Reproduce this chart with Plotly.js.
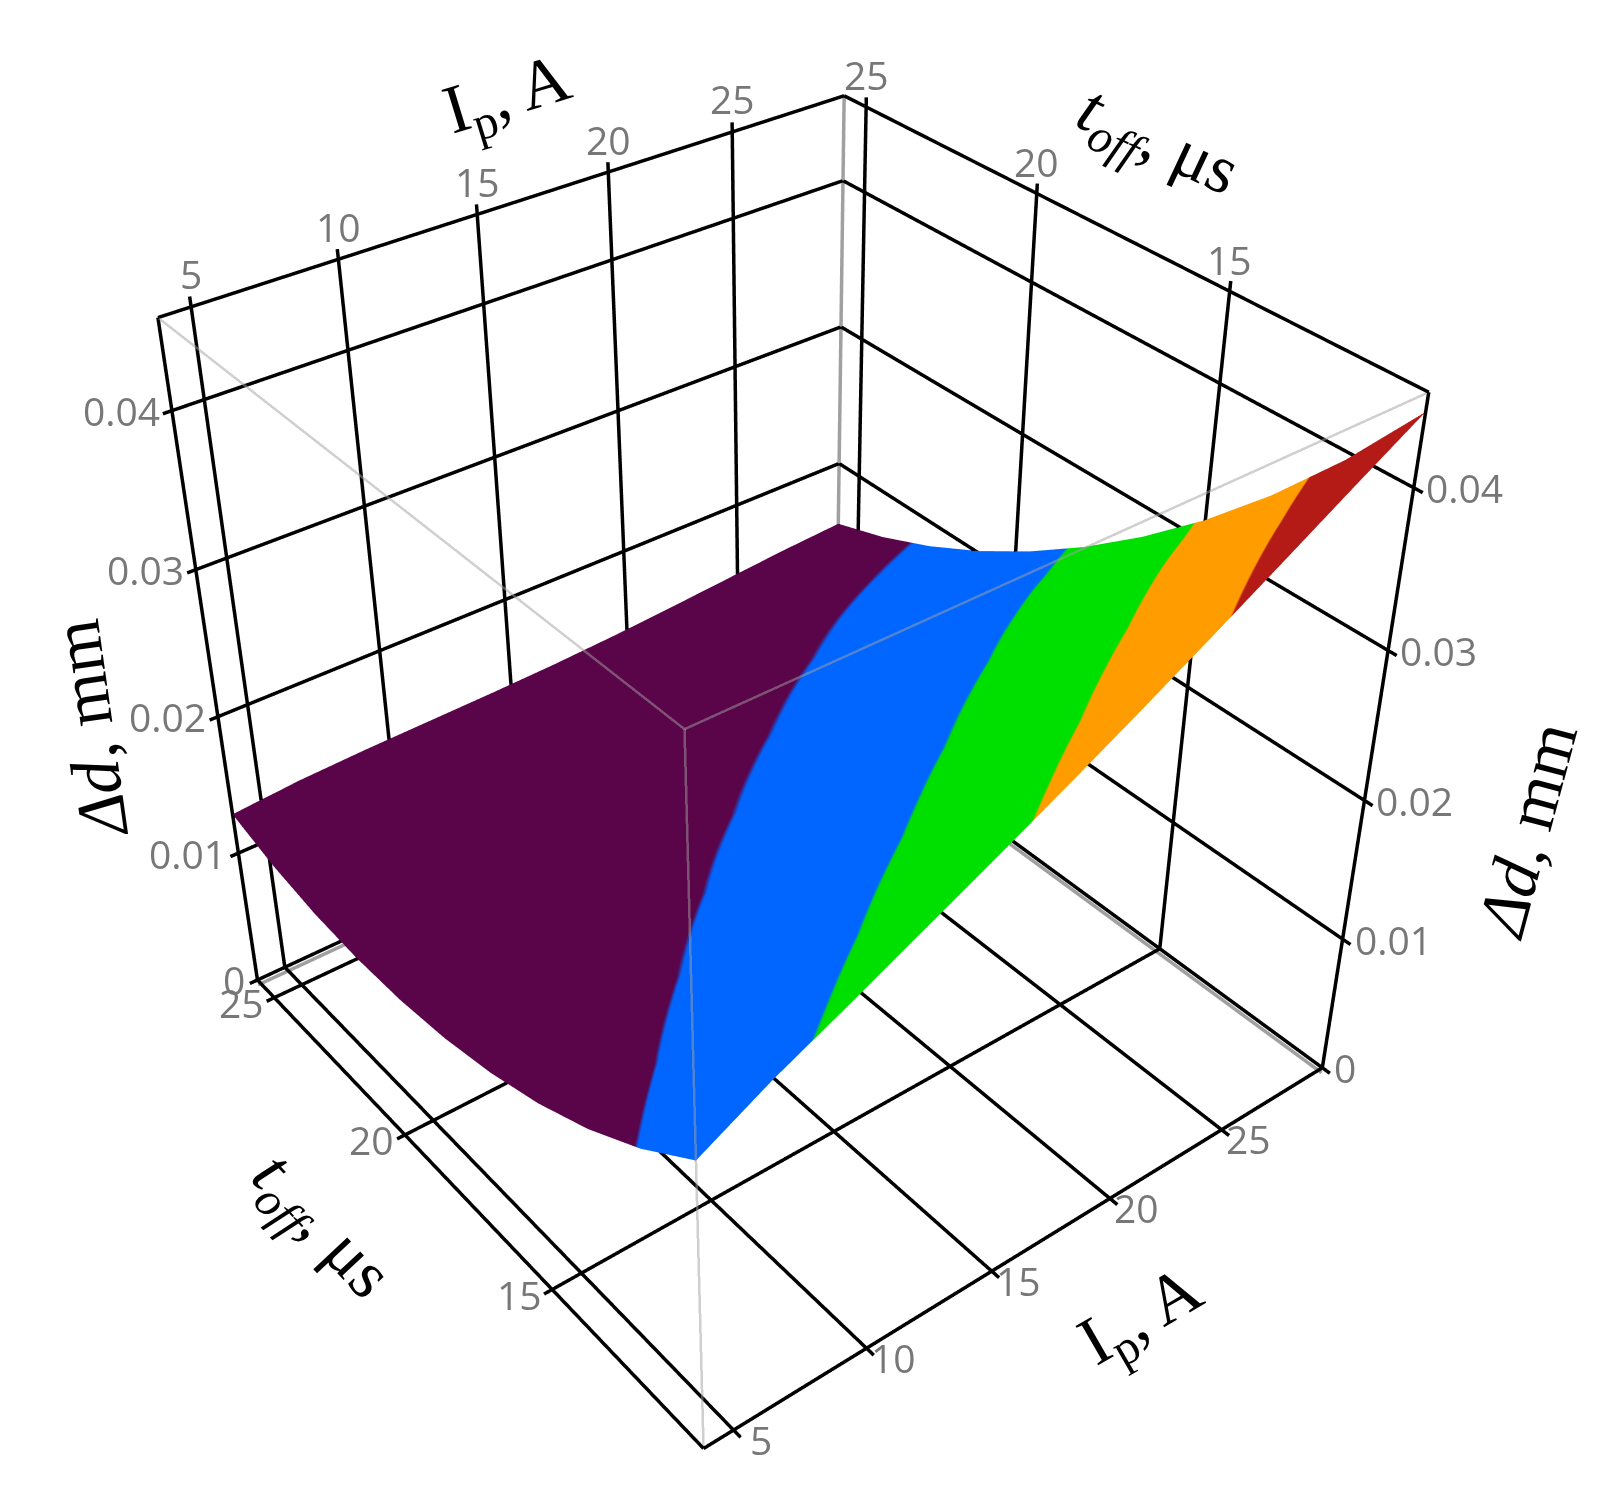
<!DOCTYPE html>
<html>
<head>
<meta charset="utf-8">
<script src="https://cdn.plot.ly/plotly-3.0.1.min.js"></script>
<style>
    body { margin: 0; background: #fff; overflow: hidden; }
    /* the scene is taller than the page: the perspective of the picture needs a longer focal length */
    #chart { position: absolute; left: -32px; top: -401px; width: 1632px; height: 2294px; }
</style>
</head>
<body>
<div id="chart"></div>
<script>
// valeurs
const ip_values = [3.9136, 6.498, 9.083, 11.667, 14.252, 16.836, 19.421, 22.005, 24.59, 27.174, 29.759];
const toff_values = [10.4435, 11.968, 13.493, 15.017, 16.542, 18.066, 19.591, 21.115, 22.64, 24.164, 25.6887];
// one row per toff value, one column per Ip value
const delta_d = [
    [.02058, .02308, .02525, .02749, .02974, .03204, .03442, .03687, .03937, .04190, .04439],
    [.01777, .02012, .02227, .02433, .02639, .02848, .03064, .03286, .03512, .03736, .03948],
    [.01555, .01773, .01971, .02158, .02344, .02532, .02727, .02927, .03129, .03329, .03516],
    [.01384, .01584, .01763, .01931, .02096, .02264, .02438, .02616, .02795, .02971, .03134],
    [.01259, .01439, .01598, .01746, .01891, .02038, .02190, .02346, .02504, .02657, .02798],
    [.01173, .01333, .01471, .01598, .01722, .01848, .01979, .02113, .02250, .02381, .02500],
    [.01125, .01263, .01380, .01485, .01587, .01692, .01801, .01914, .02030, .02141, .02239],
    [.01113, .01228, .01321, .01404, .01484, .01566, .01654, .01747, .01842, .01933, .02012],
    [.01135, .01226, .01295, .01354, .01412, .01472, .01539, .01611, .01686, .01758, .01819],
    [.01194, .01258, .01303, .01338, .01372, .01410, .01455, .01507, .01563, .01616, .01660],
    [.01292, .01329, .01347, .01357, .01367, .01382, .01406, .01438, .01474, .01510, .01537]
];
const band_levels = [.01769, .0243, .03085, .03749];
const band_colors = ['#5a0449', '#0066ff', '#00e000', '#ff9d00', '#b41a16'];
const ip_ticks = [5, 10, 15, 20, 25];
const toff_ticks = [15, 20, 25];
const d_ticks = [0, .01, .02, .03, .04];
const ip_box = [3.9136, 29.759];
const toff_box = [10.4435, 25.6887];
const d_box = [0, .0455];

const [xl, xh] = ip_box, [yl, yh] = toff_box, zh = d_box[1];

// bandes de couleur en paliers
const cmin = .01, cmax = .046;
let colorscale = [], prev = 0;
band_levels.concat([cmax]).forEach((level, i) => {
    let stop = (level - cmin) / (cmax - cmin);
    colorscale.push([prev, band_colors[i]], [stop, band_colors[i]]);
    prev = stop;
});

function segments() { return {x: [], y: [], z: []}; }
function add(set, a, b) {
    set.x.push(a[0], b[0], null);
    set.y.push(a[1], b[1], null);
    set.z.push(a[2], b[2], null);
}

// grid lines on the floor and the two back walls, with a short tick past the edge
let black = segments(), grey = segments(), light = segments();
ip_ticks.forEach(v => {
    add(black, [v, yh, 0], [v, yh, zh + .0006]);
    add(black, [v, yh, 0], [v, yl - .2, 0]);
});
toff_ticks.forEach(v => {
    add(black, [xh, v, 0], [xh, v, zh + .0006]);
    add(black, [xh, v, 0], [xl - .3, v, 0]);
});
d_ticks.forEach(v => {
    add(black, [xl - .3, yh, v], [xh, yh, v]);
    add(black, [xh, yl - .2, v], [xh, yh, v]);
});
add(black, [xl, yh, zh], [xh, yh, zh]);
add(black, [xh, yh, zh], [xh, yl, zh]);
add(black, [xl, yh, 0], [xl, yh, zh]);
add(black, [xh, yl, 0], [xh, yl, zh]);
add(black, [xl, yl, 0], [xh, yl, 0]);
add(black, [xl, yl, 0], [xl, yh, 0]);
add(grey, [xh, yh, 0], [xh, yh, zh]);
add(grey, [xl, yh, -.0004], [xh, yh, -.0004]);
add(grey, [xh, yl, -.0004], [xh, yh, -.0004]);
add(light, [xl, yl, 0], [xl, yl, zh]);
add(light, [xl, yl, zh], [xl, yh, zh]);
add(light, [xl, yl, zh], [xh, yl, zh]);

function line_trace(set, color, width, opacity) {
    return {type: 'scatter3d', mode: 'lines', x: set.x, y: set.y, z: set.z,
        line: {color: color, width: width}, opacity: opacity, hoverinfo: 'skip', showlegend: false};
}

// tick labels, on both sides of the box
const tick_font = {family: 'Open Sans, sans-serif', size: 39, color: '#777'};
function tick_label(x, y, z, text, anchor, dx, dy) {
    return {x: x, y: y, z: z, text: String(text), showarrow: false, font: tick_font,
        xanchor: anchor, yanchor: 'middle', xshift: dx, yshift: dy};
}
let labels = [];
ip_ticks.forEach(v => {
    labels.push(tick_label(v, yh, zh, v, 'center', 0, 33));
    labels.push(tick_label(v, yl, 0, v, 'center', 27, -9));
});
toff_ticks.forEach(v => {
    labels.push(tick_label(xh, v, zh, v, 'center', 0, 32));
    labels.push(tick_label(xl, v, 0, v, 'center', -33, -5));
});
d_ticks.forEach(v => {
    labels.push(tick_label(xl, yh, v, v, 'right', -10, 0));
    labels.push(tick_label(xh, yl, v, v, 'left', 10, 0));
});

// axis titles, placed in page pixels
const title_font = {family: 'Liberation Serif, serif', size: 69, color: '#000'};
function axis_title(text, px, py, angle) {
    return {text: text, xref: 'paper', yref: 'paper', x: (px + 32) / 1632, y: 1 - (py + 401) / 2294,
        xanchor: 'center', yanchor: 'middle', textangle: angle, showarrow: false, font: title_font};
}
const ip_title = 'I<sub>p</sub>, A';
const toff_title = '<i>t<sub>off</sub></i>, μs';
const d_title = '<i>Δd</i>, mm';

const scale = 1.1; // the scene is a little larger than the box so the ticks are not clipped
function wide(range) {
    let mid = (range[0] + range[1]) / 2, half = (range[1] - range[0]) / 2 * scale;
    return [mid - half, mid + half];
}
function axis(range) {
    return {range: wide(range), autorange: false, visible: false, showspikes: false};
}

var data = [
    {type: 'surface', x: ip_values, y: toff_values, z: delta_d, cmin: cmin, cmax: cmax,
        colorscale: colorscale, showscale: false, hoverinfo: 'skip',
        lighting: {ambient: 1, diffuse: 0, specular: 0, roughness: 1, fresnel: 0}},
    line_trace(black, '#000', 7, 1),
    line_trace(grey, '#a0a0a0', 7, 1),
    line_trace(light, '#a0a0a0', 5, .5)
];
var layout = {
    width: 1632, height: 2294,
    margin: {l: 0, r: 0, t: 0, b: 0},
    paper_bgcolor: 'rgba(0,0,0,0)',
    showlegend: false,
    annotations: [
        axis_title(ip_title, 508, 97, -17),
        axis_title(toff_title, 1157, 143, 25),
        axis_title(d_title, 90, 729, -98),
        axis_title(d_title, 1527, 830, -75),
        axis_title(toff_title, 320, 1227, 47),
        axis_title(ip_title, 1142, 1318, -30)
    ],
    scene: {
        domain: {x: [0, 1], y: [0, 1]},
        aspectmode: 'manual',
        aspectratio: {x: .9869 * scale, y: .9889 * scale, z: .9815 * scale},
        camera: {
            eye: {x: -1.6518, y: -2.1151, z: 1.9462},
            center: {x: .0002, y: -.0085, z: -.0368},
            up: {x: 0, y: 0, z: 1}
        },
        xaxis: axis(ip_box),
        yaxis: axis(toff_box),
        zaxis: axis(d_box),
        annotations: labels
    }
};
Plotly.newPlot('chart', data, layout, {displayModeBar: false});
</script>
</body>
</html>
